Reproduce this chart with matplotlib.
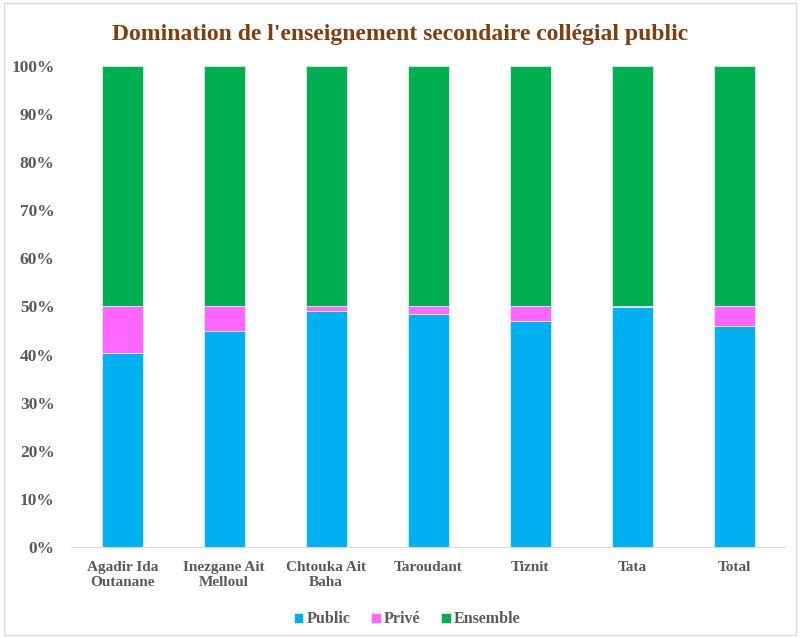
import matplotlib.pyplot as plt
from matplotlib.ticker import PercentFormatter
import numpy as np

categories = ["Agadir Ida\nOutanane", "Inezgane Ait\nMelloul", "Chtouka Ait\nBaha",
              "Taroudant", "Tiznit", "Tata", "Total"]
public = [40.4, 45.0, 49.0, 48.5, 46.9, 49.9, 46.0]
prive = [9.6, 5.0, 1.0, 1.5, 3.1, 0.1, 4.0]
ensemble = [50.0, 50.0, 50.0, 50.0, 50.0, 50.0, 50.0]

c_public = "#00B0F0"
c_prive = "#FF66FF"
c_ens = "#00B050"
gris = "#595959"

fig = plt.figure(figsize=(8, 6.38), dpi=100)
ax = fig.add_axes([0.089, 0.1426, 0.8925, 0.754])

x = np.arange(len(categories))
pub = np.array(public)
pri = np.array(prive)
ens = np.array(ensemble)
w = 0.4
ax.bar(x, pub, w, color=c_public, edgecolor="white", linewidth=0.4, label="Public")
ax.bar(x, pri, w, bottom=pub, color=c_prive, edgecolor="white", linewidth=0.4, label="Privé")
ax.bar(x, ens, w, bottom=pub + pri, color=c_ens, edgecolor="white", linewidth=0.4, label="Ensemble")

ax.set_xlim(-0.5, len(categories) - 0.5)
ax.set_ylim(0, 100)
ax.set_yticks(range(0, 101, 10))
ax.yaxis.set_major_formatter(PercentFormatter(decimals=0))
ax.set_xticks(x)
ax.set_xticklabels(categories)

for lab in ax.get_xticklabels():
    lab.set_fontfamily("Liberation Serif")
    lab.set_fontweight("bold")
    lab.set_fontsize(11)
    lab.set_color(gris)
for lab in ax.get_yticklabels():
    lab.set_fontfamily("Liberation Serif")
    lab.set_fontweight("bold")
    lab.set_fontsize(12.5)
    lab.set_color(gris)

ax.tick_params(axis="both", length=0)
ax.tick_params(axis="x", pad=10)
ax.tick_params(axis="y", pad=12)
for s in ["top", "right", "left"]:
    ax.spines[s].set_visible(False)
ax.spines["bottom"].set_color("#D9D9D9")

fig.suptitle("Domination de l'enseignement secondaire collégial public", y=0.962,
             fontfamily="Liberation Serif", fontweight="bold", fontsize=17, color="#843C0C")

leg = fig.legend(loc="lower center", bbox_to_anchor=(0.509, -0.006), ncol=3, frameon=False,
                 handlelength=0.6, handleheight=0.6, handletextpad=0.2, columnspacing=1.3,
                 prop={"family": "Liberation Serif", "weight": "bold", "size": 11.5})
for t in leg.get_texts():
    t.set_color(gris)

fig.patches.append(plt.Rectangle((0.005, 0.005), 0.99, 0.99, transform=fig.transFigure,
                                 fill=False, edgecolor="#D9D9D9", linewidth=1))

fig.savefig("out.png", dpi=100)
